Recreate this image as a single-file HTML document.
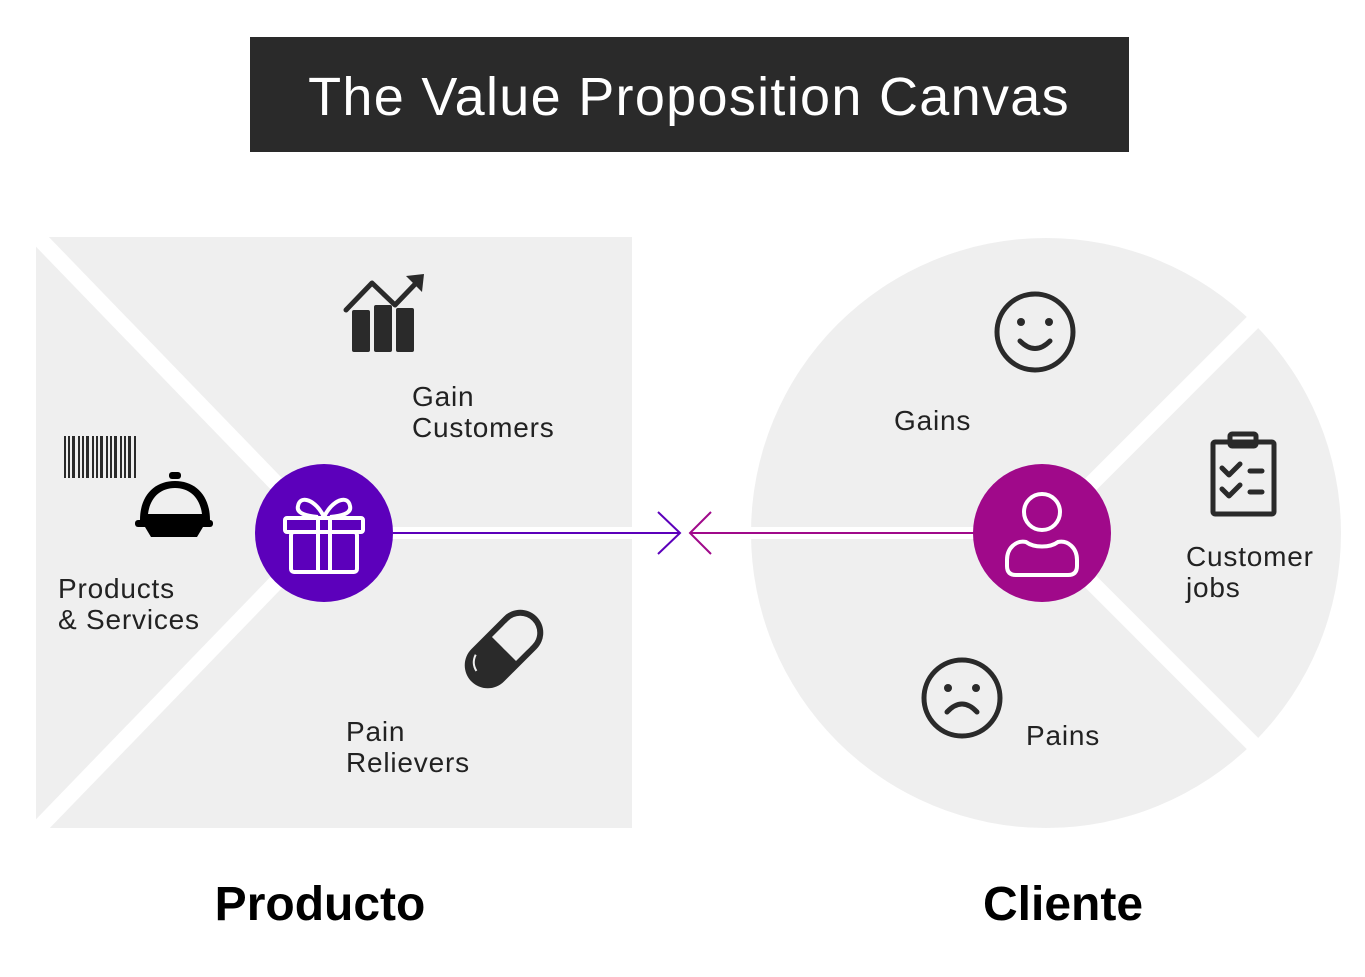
<!DOCTYPE html>
<html><head><meta charset="utf-8"><style>
body{margin:0;background:#fff;width:1365px;height:977px;overflow:hidden}
svg{display:block}
text{font-family:"Liberation Sans",sans-serif}
</style></head><body>
<svg width="1365" height="977" viewBox="0 0 1365 977">
<rect x="250" y="37" width="879" height="115" fill="#2a2a2a"/>
<text x="689" y="115" font-size="54" fill="#fff" text-anchor="middle" letter-spacing="1.3">The Value Proposition Canvas</text>

<rect x="36" y="237" width="596" height="591" fill="#efefef"/>
<g stroke="#fff" stroke-width="16" fill="none">
<line x1="30" y1="229" x2="324" y2="533"/>
<line x1="30" y1="837" x2="324" y2="533"/>
<line x1="324" y1="533" x2="640" y2="533" stroke-width="12"/>
</g>
<circle cx="1046" cy="533" r="295" fill="#efefef"/>
<g stroke="#fff" stroke-width="16" fill="none">
<line x1="1042" y1="533" x2="1260" y2="315"/>
<line x1="1042" y1="533" x2="1260" y2="751"/>
<line x1="745" y1="533" x2="1042" y2="533" stroke-width="12"/>
</g>

<line x1="393" y1="533" x2="680" y2="533" stroke="#5c00bb" stroke-width="2"/>
<polyline points="658,512 680,533 658,554" fill="none" stroke="#5c00bb" stroke-width="2"/>
<line x1="690" y1="533" x2="975" y2="533" stroke="#a0098a" stroke-width="2"/>
<polyline points="711,512 690,533 711,554" fill="none" stroke="#a0098a" stroke-width="2"/>

<circle cx="324" cy="533" r="69" fill="#5c00bb"/>
<g stroke="#fff" stroke-width="4" fill="none" stroke-linejoin="round">
<rect x="285" y="518" width="78" height="14" rx="2"/>
<rect x="291" y="532" width="66" height="40" rx="3"/>
<line x1="318" y1="518" x2="318" y2="572"/><line x1="330" y1="518" x2="330" y2="572"/>
<path d="M324 517 C316 500 300 494 298 506 C296 514 308 516 318 517"/>
<path d="M324 517 C332 500 348 494 350 506 C352 514 340 516 330 517"/>
</g>

<circle cx="1042" cy="533" r="69" fill="#a0098a"/>
<g stroke="#fff" stroke-width="4" fill="none">
<circle cx="1042" cy="512" r="18"/>
<path d="M1026 542 C1034 548 1050 548 1058 542 C1068 540 1077 548 1077 560 L1077 566 Q1077 575 1068 575 L1016 575 Q1007 575 1007 566 L1007 560 C1007 548 1016 540 1026 542Z"/>
</g>

<g fill="#2a2a2a">
<rect x="352" y="310" width="18" height="42" rx="2"/>
<rect x="374" y="305" width="18" height="47" rx="2"/>
<rect x="396" y="308" width="18" height="44" rx="2"/>
<polyline points="346,310 372,283 395,305 420,279" fill="none" stroke="#2a2a2a" stroke-width="5" stroke-linejoin="round" stroke-linecap="round"/>
<polygon points="406,276 424,274 422,292"/>
</g>

<g fill="#2a2a2a">
<rect x="64" y="436" width="2" height="42"/><rect x="68" y="436" width="2" height="42"/><rect x="72" y="436" width="3" height="42"/><rect x="78" y="436" width="2" height="42"/><rect x="82" y="436" width="2" height="42"/><rect x="86" y="436" width="3" height="42"/><rect x="92" y="436" width="2" height="42"/><rect x="96" y="436" width="2" height="42"/><rect x="100" y="436" width="3" height="42"/><rect x="106" y="436" width="2" height="42"/><rect x="110" y="436" width="2" height="42"/><rect x="114" y="436" width="3" height="42"/><rect x="120" y="436" width="2" height="42"/><rect x="124" y="436" width="2" height="42"/><rect x="128" y="436" width="3" height="42"/><rect x="134" y="436" width="2" height="42"/>
</g>
<g fill="#000">
<rect x="169" y="472" width="12" height="7" rx="3"/>
<path d="M140 520 C140 495 155 481 175 481 C195 481 210 495 210 520 Z M148 514 L202 514 C200 498 190 488 175 488 C160 488 150 498 148 514Z" fill-rule="evenodd"/>
<rect x="135" y="520" width="78" height="7" rx="3"/>
<path d="M145 527 L203 527 L197 537 L151 537Z"/>
</g>

<g transform="rotate(-45 504 649)">
<rect x="458" y="626" width="92" height="46" rx="23" fill="#2a2a2a"/>
<rect x="504" y="632" width="40" height="34" rx="17" fill="#efefef"/>
<rect x="504" y="632" width="20" height="34" fill="#efefef"/>
<path d="M469 645 Q471 636 480 633" stroke="#efefef" stroke-width="2" fill="none"/>
</g>

<g stroke="#2a2a2a" stroke-width="5" fill="none">
<circle cx="1035" cy="332" r="38"/>
<path d="M1020 341 Q1035 356 1050 341" stroke-linecap="round"/>
<circle cx="962" cy="698" r="38"/>
<path d="M947 712 Q962 696 977 712" stroke-linecap="round"/>
</g>
<g fill="#2a2a2a">
<circle cx="1021" cy="322" r="4"/><circle cx="1049" cy="322" r="4"/>
<circle cx="948" cy="688" r="4"/><circle cx="976" cy="688" r="4"/>
</g>

<g stroke="#2a2a2a" stroke-width="5" fill="none" stroke-linecap="round" stroke-linejoin="round">
<rect x="1213" y="442" width="61" height="72" rx="2"/>
<rect x="1230" y="434" width="26" height="12" rx="2"/>
<polyline points="1222,468 1229,475 1240,464"/>
<polyline points="1222,489 1229,496 1240,485"/>
<line x1="1250" y1="471" x2="1262" y2="471"/>
<line x1="1250" y1="492" x2="1262" y2="492"/>
</g>

<g font-size="28" fill="#222" letter-spacing="0.8">
<text x="412" y="406">Gain</text><text x="412" y="437">Customers</text>
<text x="58" y="598">Products</text><text x="58" y="629">&amp; Services</text>
<text x="346" y="741">Pain</text><text x="346" y="772">Relievers</text>
<text x="894" y="430">Gains</text>
<text x="1186" y="566">Customer</text><text x="1186" y="597">jobs</text>
<text x="1026" y="745">Pains</text>
</g>
<text x="320" y="920" font-size="48" font-weight="bold" fill="#000" text-anchor="middle">Producto</text>
<text x="1063" y="920" font-size="48" font-weight="bold" fill="#000" text-anchor="middle">Cliente</text>
</svg>
</body></html>
